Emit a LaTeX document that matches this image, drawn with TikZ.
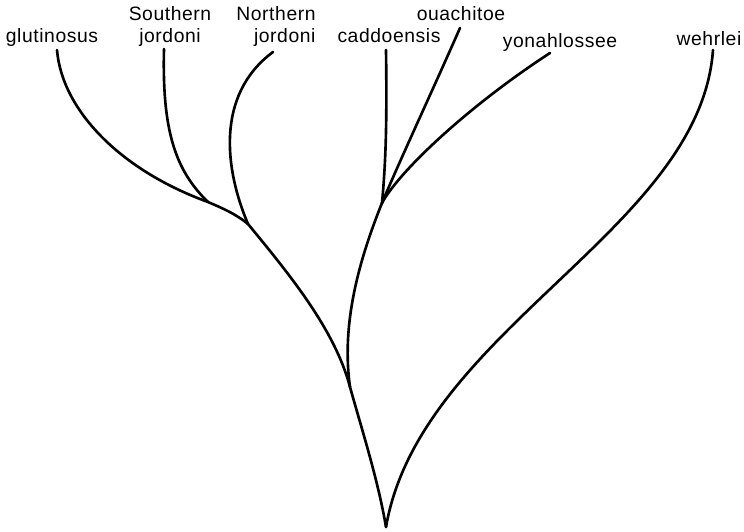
\documentclass[tikz,border=0pt]{standalone}
\usepackage{fontspec}
\setmainfont{Liberation Sans}[LetterSpace=3]
\usepackage{tikz}
\usetikzlibrary{calc}
\newcommand{\taxonfont}{\fontsize{11}{12}\selectfont}

\begin{document}
\begin{tikzpicture}[x=0.02cm,y=-0.02cm,
    branch/.style={line width=1.5pt,line cap=round},
    taxon/.style={anchor=base,inner sep=0pt,font=\taxonfont}]
            \useasboundingbox (0,0) rectangle (744,531);
            % species names
            \node[taxon] (glut) at (52,42) {glutinosus};
            \node[taxon,align=center] (sjor) at (170,42) {Southern\\jordoni};
            \node[taxon,align=center] (njor) at (276,42) {Northern\\\hspace*{10pt}jordoni};
            \node[taxon] (cadd) at (389,42) {caddoensis};
            \node[taxon] (ouac) at (461,20) {ouachitoe};
            \node[taxon] (yona) at (560,47) {yonahlossee};
            \node[taxon] (wehr) at (709,45) {wehrlei};
            % branch tips
            \coordinate (glutTip) at (57,50);
            \coordinate (sjorTip) at (164,49);
            \coordinate (njorTip) at (273,52);
            \coordinate (caddTip) at (386,50);
            \coordinate (ouacTip) at (460,28);
            \coordinate (yonaTip) at (550,53);
            \coordinate (wehrTip) at (713,50);
            % forks
            \coordinate (gsFork) at (208,202);
            \coordinate (jorFork) at (248,224);
            \coordinate (cadFork) at (382,203);
            \coordinate (midFork) at (350,387);
            \coordinate (root) at (386,527);
            % the tree
            \draw[branch] (glutTip) .. controls (62,110) and (120,170) .. (gsFork);
            \draw[branch] (sjorTip) .. controls (162,130) and (175,170) .. (gsFork);
            \draw[branch] (gsFork) .. controls (222,208) and (236,214) .. (jorFork);
            \draw[branch] (njorTip) .. controls (215,95) and (225,170) .. (jorFork);
            \draw[branch] (jorFork) .. controls (290,275) and (335,330) .. (midFork);
            \draw[branch] (caddTip) .. controls (387,120) and (386,160) .. (cadFork);
            \draw[branch] (ouacTip) .. controls (435,85) and (400,160) .. (cadFork);
            \draw[branch] (yonaTip) .. controls (470,105) and (400,170) .. (cadFork);
            \draw[branch] (cadFork) .. controls (355,270) and (342,330) .. (midFork);
            \draw[branch] (midFork) .. controls (362,430) and (378,480) .. (root);
            \draw[branch] (wehrTip) .. controls (700,230) and (420,330) .. (root);
        \end{tikzpicture}
\end{document}
